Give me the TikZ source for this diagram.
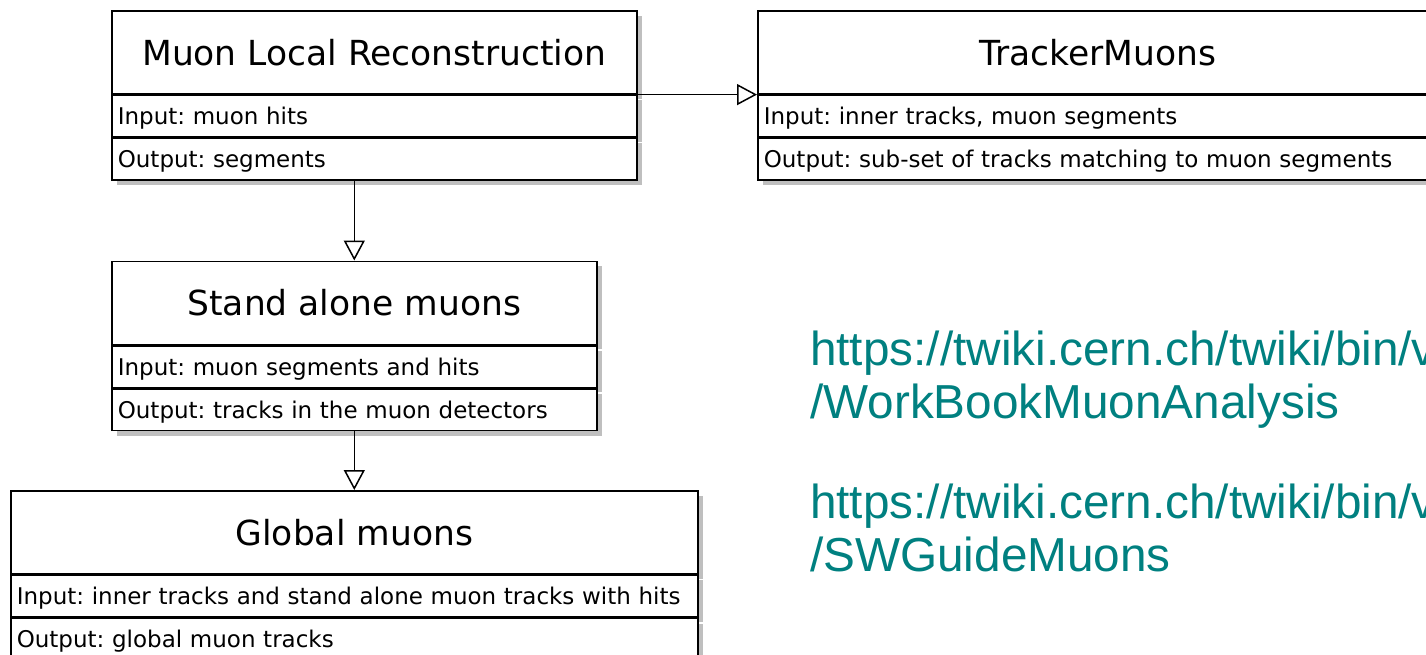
\documentclass[tikz,border=0pt]{standalone}
\usepackage{fontspec}
\usetikzlibrary{arrows.meta,shadows}
\newfontfamily\umlfont{DejaVu Sans}
\newfontfamily\linkfont{Liberation Sans}
\definecolor{linkteal}{RGB}{0,128,128}
\frenchspacing

\begin{document}
\begin{tikzpicture}[x=1pt,y=-1pt,
    umlbox/.style={draw=black, line width=1.6pt, fill=white, inner sep=0pt, inner xsep=6pt,
      drop shadow={shadow xshift=5pt, shadow yshift=-5pt, fill=black!25, opacity=1}},
    umltitle/.style={umlbox, font=\umlfont\fontsize{34.5}{40}\selectfont,
      minimum height=83pt, text height=26pt, text depth=0pt},
    umlrow/.style={umlbox, font=\umlfont\fontsize{23}{27}\selectfont,
      minimum height=41.5pt, align=left, text height=17pt, text depth=0pt},
    inherit/.style={-{Triangle[open,length=20pt,width=21pt]}, line width=1.5pt},
    link/.style={font=\linkfont\fontsize{47.7}{53}\selectfont, text=linkteal,
      align=left, anchor=north west, inner sep=0pt}]
      \useasboundingbox (0,0) rectangle (1426,655);
      % class boxes: name/x/y/width/title/input/output
      \foreach \nm/\x/\y/\w/\ttl/\inp/\outp in {
        mlr/111/10/525/{Muon Local Reconstruction}/{Input: muon hits}/{Output: segments},
        trk/757/10/680/{TrackerMuons}/{Input: inner tracks, muon segments}/{Output: sub-set of tracks matching to muon segments},
        sam/111/260.5/485/{Stand alone muons}/{Input: muon segments and hits}/{Output: tracks in the muon detectors},
        glb/10/490/687/{Global muons}/{Input: inner tracks and stand alone muon tracks with hits}/{Output: global muon tracks}}
      {
        \node[umltitle, minimum width=\w pt, anchor=north west] (\nm) at (\x,\y) {\ttl};
        \node[umlrow, text width=\w pt-12pt, anchor=north west] (\nm-in) at (\nm.south west) {\inp};
        \node[umlrow, text width=\w pt-12pt, anchor=north west] (\nm-out) at (\nm-in.south west) {\outp};
      }
      \draw[inherit] (mlr.south east) -- (trk.south west);
      \draw[inherit] (mlr-out.south -| sam.north) -- (sam.north);
      \draw[inherit] (sam-out.south -| glb.north) -- (glb.north);
      % links
      \node[link] (wbma) at (810,331) {https://twiki.cern.ch/twiki/bin/v\\/WorkBookMuonAnalysis};
      \node[link] (swgm) at (810,484) {https://twiki.cern.ch/twiki/bin/v\\/SWGuideMuons};
    \end{tikzpicture}
\end{document}
